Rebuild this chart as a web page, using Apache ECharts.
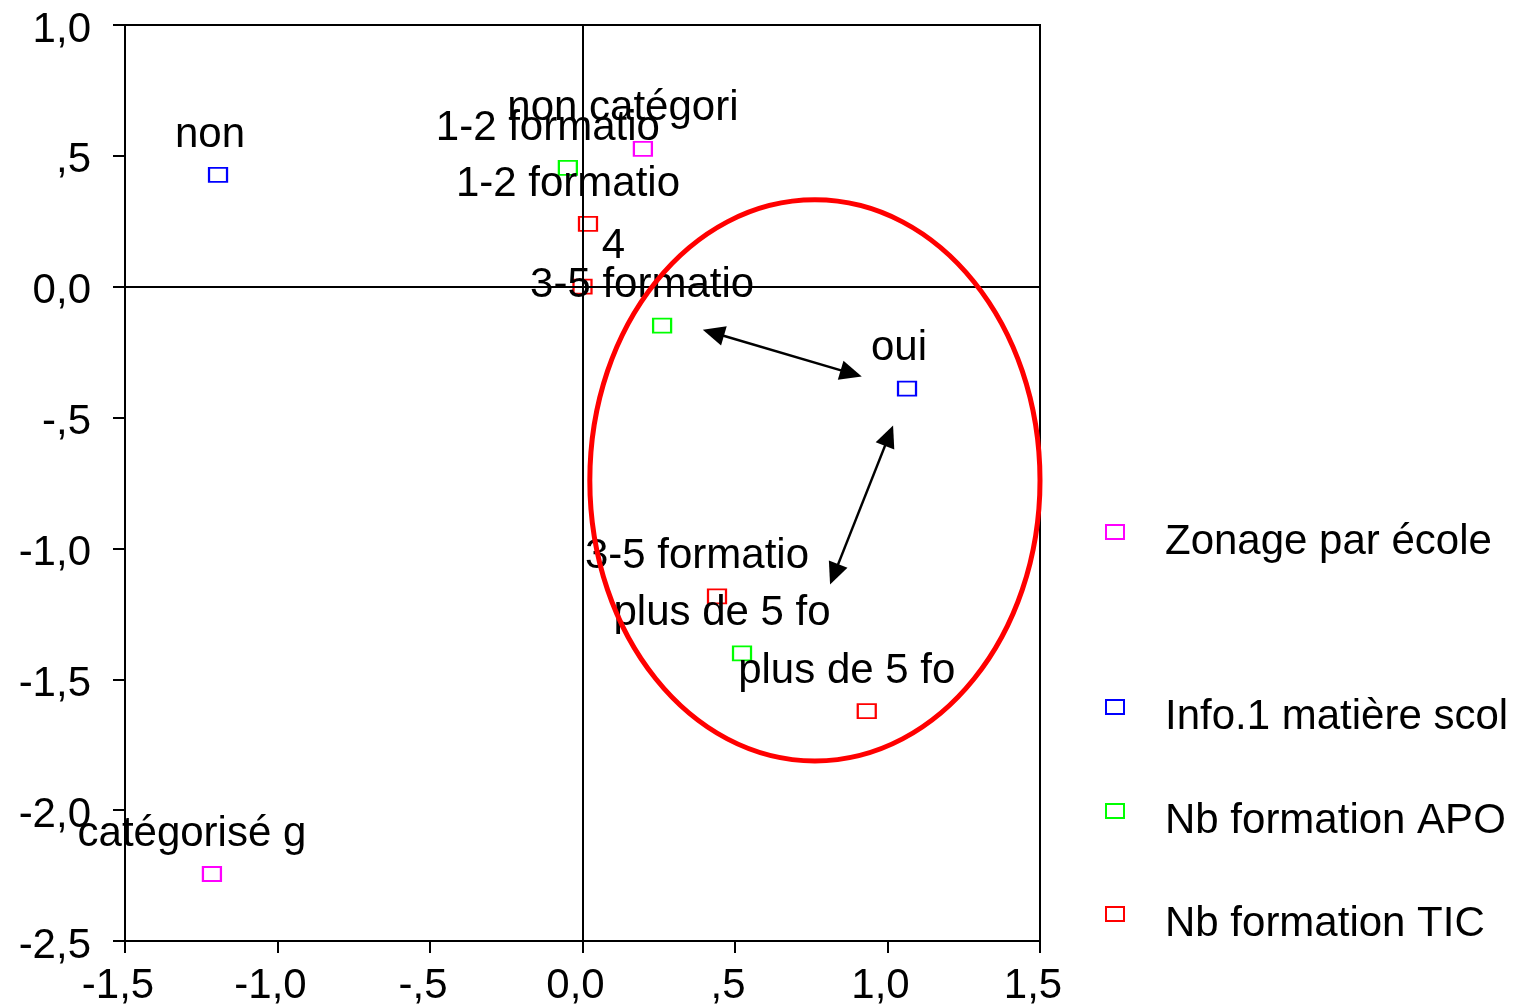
<!DOCTYPE html>
<html>
<head>
<meta charset="utf-8">
<script src="https://cdn.jsdelivr.net/npm/echarts@6/dist/echarts.min.js"></script>
<style>
  html, body { margin: 0; padding: 0; background: #fff; }
  #myChart { width: 1527px; height: 1007px; }
</style>
</head>
<body>
<div id="myChart"></div>
<script>
// category points: [dim 1, dim 2]
const seriesNames = ["Zonage par école", "Info.1 matière scol", "Nb formation APO", "Nb formation TIC"];
const seriesColors = ["#ff00ff", "#0000ff", "#00ff00", "#ff0000"];

const zonageLabels = ["non catégori", "catégorisé g"];
const zonagePoints = [[0.198, 0.527], [-1.215, -2.244]];

const infoLabels = ["non", "oui"];
const infoPoints = [[-1.195, 0.427], [1.064, -0.389]];

const apoLabels = ["1-2 formatio", "3-5 formatio", "plus de 5 fo"];
const apoPoints = [[-0.048, 0.454], [0.261, -0.149], [0.523, -1.401]];

const ticLabels = ["1-2 formatio", "4", "3-5 formatio", "plus de 5 fo"];
const ticPoints = [[0.018, 0.240], [0.0, 0.0], [0.441, -1.183], [0.932, -1.622]];

// annotations, in data units (arrow heads centred on these ends)
const arrows = [
  [[0.429, -0.176], [0.881, -0.331]],
  [[1.005, -0.569], [0.825, -1.099]]
];
const ellipseCenter = [0.762, -0.740];
const ellipseRadius = [0.738, 1.072];

const fontFamily = "'Liberation Sans', Arial, sans-serif";

function tickFormat(v) {
  let s = Math.abs(v).toFixed(1).replace(".", ",");
  if (Math.abs(v) < 1 && v !== 0) s = s.slice(1);
  return (v < 0 ? "-" : "") + s;
}

function buildData(labels, points) {
  return points.map((p, i) => {
    const name = labels[i];
    let off = name.length > 4 ? [-20, 0] : [-8, 0];
    if (name === "4") off = [31, 0];
    return { name: name, value: p, label: { offset: off } };
  });
}

const groups = [
  [zonageLabels, zonagePoints],
  [infoLabels, infoPoints],
  [apoLabels, apoPoints],
  [ticLabels, ticPoints]
];

let series = groups.map((g, i) => ({
  name: seriesNames[i],
  type: "scatter",
  symbol: "rect",
  symbolSize: [18, 14],
  itemStyle: { color: "transparent", borderColor: seriesColors[i], borderWidth: 2, opacity: 1 },
  label: {
    show: true,
    position: "top",
    distance: 11,
    formatter: "{b}",
    color: "#000",
    fontSize: 42,
    fontFamily: fontFamily
  },
  emphasis: { disabled: true },
  data: buildData(g[0], g[1])
}));

// reference lines at zero
series.push({
  type: "scatter",
  data: [],
  silent: true,
  markLine: {
    silent: true,
    symbol: ["none", "none"],
    label: { show: false },
    lineStyle: { color: "#000", width: 2, type: "solid" },
    data: [{ xAxis: 0 }, { yAxis: 0 }]
  }
});

// double arrows
series.push({
  type: "scatter",
  data: [],
  silent: true,
  markLine: {
    silent: true,
    symbol: ["triangle", "triangle"],
    symbolSize: [20, 22],
    label: { show: false },
    lineStyle: { color: "#000", width: 2.5, type: "solid" },
    itemStyle: { color: "#000" },
    data: arrows.map(a => [{ coord: a[0] }, { coord: a[1] }])
  }
});

// one legend per entry so the uneven spacing can be kept
const legendTops = [516, 691, 795, 898];
const legends = seriesNames.map((n, i) => ({
  data: [n],
  left: 1100,
  top: legendTops[i],
  orient: "vertical",
  selectedMode: false,
  icon: "rect",
  itemWidth: 18,
  itemHeight: 14,
  formatter: "{t|{name}}",
  textStyle: {
    rich: { t: { color: "#000", fontSize: 42, fontFamily: fontFamily, padding: [20, 0, 0, 36] } }
  }
}));

const axisCommon = {
  type: "value",
  interval: 0.5,
  splitLine: { show: false },
  axisLine: { show: true, onZero: false, lineStyle: { color: "#000", width: 2 } },
  axisTick: { show: true, length: 12, lineStyle: { color: "#000", width: 2 } },
  axisLabel: { color: "#000", fontSize: 42, fontFamily: fontFamily, formatter: tickFormat }
};

let myChart = echarts.init(document.getElementById("myChart"));

let option = {
  animation: false,
  backgroundColor: "#fff",
  grid: {
    left: 125, right: 487, top: 25, bottom: 66,
    show: true, borderColor: "#000", borderWidth: 2,
    outerBoundsMode: "none"
  },
  legend: legends,
  xAxis: Object.assign({}, axisCommon, {
    min: -1.5, max: 1.5,
    axisLabel: Object.assign({}, axisCommon.axisLabel, { margin: 24, padding: [0, 14, 0, 0] })
  }),
  yAxis: Object.assign({}, axisCommon, {
    min: -2.5, max: 1.0,
    axisLabel: Object.assign({}, axisCommon.axisLabel, { margin: 34, verticalAlign: "top", lineHeight: 10 })
  }),
  series: series
};

myChart.setOption(option);

// red ellipse drawn around the lower-right group
const c = myChart.convertToPixel({ gridIndex: 0 }, ellipseCenter);
const e = myChart.convertToPixel({ gridIndex: 0 },
  [ellipseCenter[0] + ellipseRadius[0], ellipseCenter[1] + ellipseRadius[1]]);
myChart.setOption({
  graphic: [{
    type: "ellipse",
    z: 100,
    silent: true,
    shape: { cx: c[0], cy: c[1], rx: Math.abs(e[0] - c[0]), ry: Math.abs(c[1] - e[1]) },
    style: { fill: "none", stroke: "#ff0000", lineWidth: 5 }
  }]
});
</script>
</body>
</html>
